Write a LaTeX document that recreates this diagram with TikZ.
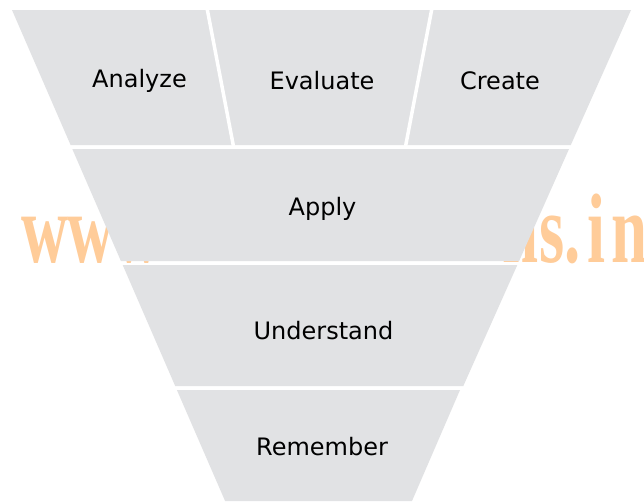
\documentclass[tikz,border=0pt]{standalone}
\usepackage{fontspec}
\setmainfont{DejaVu Sans}
\newfontfamily\wmfont{Liberation Serif}[BoldFont={Liberation Serif Bold}]
\definecolor{bandgray}{HTML}{E1E2E4}
\definecolor{wmorange}{HTML}{FFCC99}
\newcommand{\wmtxt}[1]{\scalebox{0.8}[1.22]{#1}}
\begin{document}
\begin{tikzpicture}[x=1pt,y=-1pt,
  band/.style={fill=bandgray,draw=none},
  divider/.style={draw=white,line width=3.5pt},
  lbl/.style={inner sep=0pt,anchor=base,font=\fontsize{24}{24}\selectfont,text=black},
  wm/.style={inner sep=0pt,text=wmorange,anchor=base west,font=\wmfont\bfseries\fontsize{81}{81}\selectfont}]
\useasboundingbox (0,0) rectangle (644,501);
\clip (0,0) rectangle (644,501);
\fill[white] (0,0) rectangle (644,501);
% watermark behind the funnel
\node[wm] (wmL) at (21,262) {\wmtxt{www}};
\node[wm,anchor=base east] (wmN) at (539,262) {\wmtxt{n}};
\node[wm] (wmS) at (539,262) {\wmtxt{s.}};
\node[wm] (wmI) at (587,262) {\wmtxt{i}};
\node[wm] (wmN2) at (611,262) {\wmtxt{n}};
% funnel bands
\fill[band] (12,10) -- (631,10) -- (570.8,145) -- (70.6,145) -- cycle;
\fill[band] (72.3,149) -- (569,149) -- (519.1,261) -- (120.9,261) -- cycle;
\fill[band] (122.7,265) -- (517.3,265) -- (463.3,386) -- (175.2,386) -- cycle;
\fill[band] (176.9,390) -- (460,390) -- (412,501) -- (225.1,501) -- cycle;
% dividers of the top band
\coordinate (d1t) at (207,8);
\coordinate (d1b) at (233.4,146);
\coordinate (d2t) at (432,8);
\coordinate (d2b) at (405.6,146);
\draw[divider] (d1t) -- (d1b);
\draw[divider] (d2t) -- (d2b);
% labels
\node[lbl] (analyze) at (139.5,87) {Analyze};
\node[lbl] (evaluate) at (322,89) {Evaluate};
\node[lbl] (create) at (500,89) {Create};
\node[lbl] (apply) at (322.5,215) {Apply};
\node[lbl] (understand) at (323.5,339) {Understand};
\node[lbl] (remember) at (322,455) {Remember};
\end{tikzpicture}
\end{document}
